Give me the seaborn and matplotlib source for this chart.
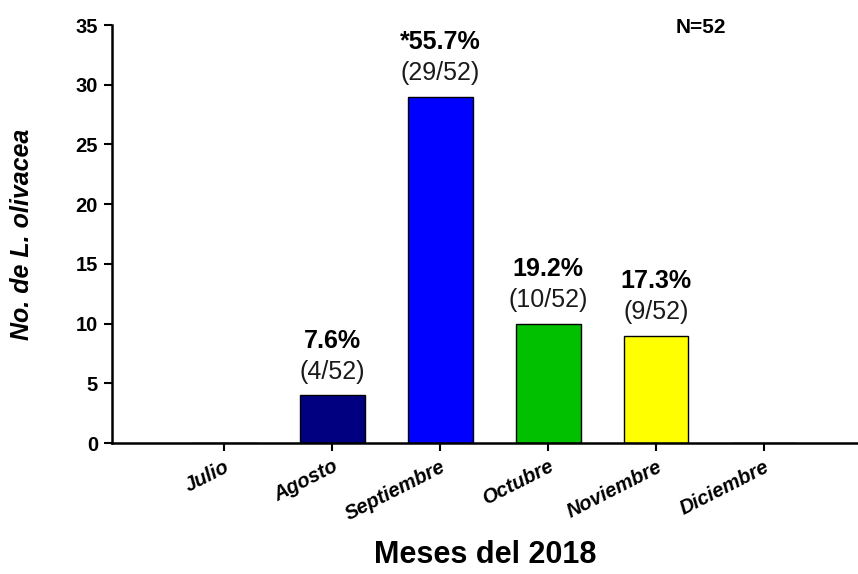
import matplotlib
matplotlib.use("Agg")
import matplotlib.pyplot as plt
import seaborn as sns
import pandas as pd

months = ["Julio", "Agosto", "Septiembre", "Octubre", "Noviembre", "Diciembre"]
counts = [0, 4, 29, 10, 9, 0]
percent_labels = ["", "7.6%", "*55.7%", "19.2%", "17.3%", ""]
fraction_labels = ["", "(4/52)", "(29/52)", "(10/52)", "(9/52)", ""]
colors = ["#FFFFFF", "#000080", "#0000FF", "#00C000", "#FFFF00", "#FFFFFF"]
y_ticks = [0, 5, 10, 15, 20, 25, 30, 35]

sns.set_theme(style="ticks")
plt.rcParams["font.family"] = ["Liberation Sans", "DejaVu Sans"]
plt.rcParams["text.color"] = "black"
plt.rcParams["axes.labelcolor"] = "black"
plt.rcParams["xtick.color"] = "black"
plt.rcParams["ytick.color"] = "black"

df = pd.DataFrame({"Mes": months, "N": counts})

fig = plt.figure(figsize=(8.58, 5.74), dpi=100)
ax = fig.add_axes([0.1305, 0.2282, 0.8695, 0.7282])

sns.barplot(data=df, x="Mes", y="N", hue="Mes", palette=colors, order=months,
            hue_order=months, legend=False, width=0.6, edgecolor="black",
            linewidth=1.0, saturation=1, ax=ax)

ax.set_ylim(0, 35)
ax.set_xlim(-1.04, 5.87)
ax.set_yticks(y_ticks)
ax.set_yticklabels([str(t) for t in y_ticks], fontsize=14.5, fontweight="bold")
ax.set_xticks(range(len(months)))
ax.set_xticklabels(months, rotation=27, ha="right", rotation_mode="anchor",
                   fontsize=14.5, fontweight="bold", fontstyle="italic")

for s in ["top", "right"]:
    ax.spines[s].set_visible(False)
for s in ["left", "bottom"]:
    ax.spines[s].set_color("black")
    ax.spines[s].set_linewidth(1.8)
ax.tick_params(axis="both", direction="out", length=6, width=1.5, color="black", pad=4)

ax.set_xlabel("Meses del 2018", fontsize=22, fontweight="bold", labelpad=12)
ax.set_ylabel("No. de L. olivacea", fontsize=18, fontweight="bold",
              fontstyle="italic", labelpad=30)

for i, (v, p, f) in enumerate(zip(counts, percent_labels, fraction_labels)):
    if p:
        ax.annotate(f, xy=(i, v), xytext=(0, 12), textcoords="offset points",
                    ha="center", va="baseline", fontsize=18, color="#1a1a1a")
        ax.annotate(p, xy=(i, v), xytext=(0, 34), textcoords="offset points",
                    ha="center", va="baseline", fontsize=18, fontweight="bold")

fig.text(0.787, 0.969, "N=52", fontsize=15, fontweight="bold", ha="left", va="top")

fig.savefig("out.png", dpi=100)
